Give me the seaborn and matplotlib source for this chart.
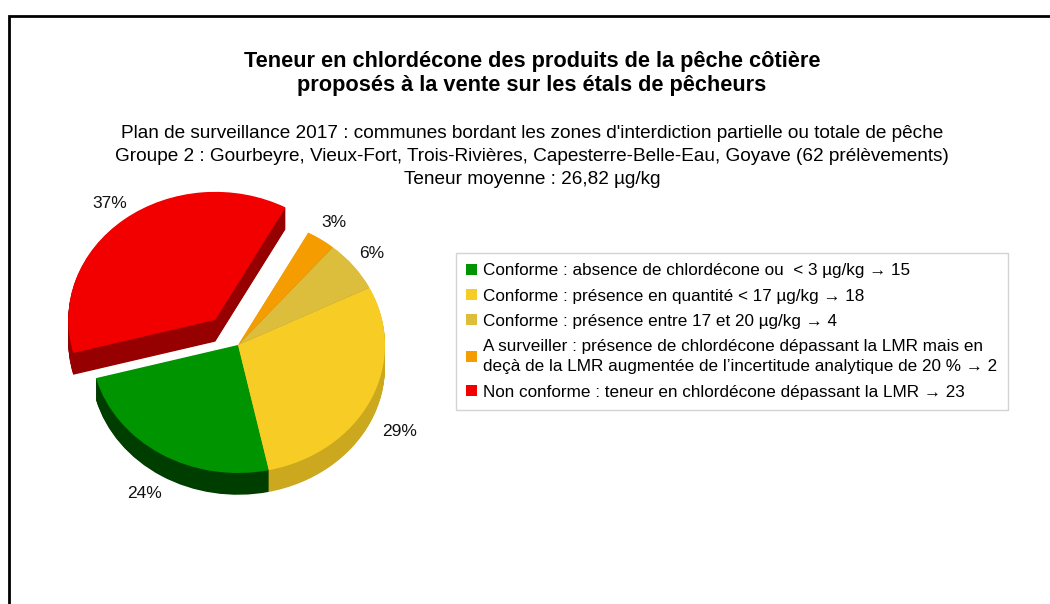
import numpy as np
import matplotlib
matplotlib.use('Agg')
import matplotlib.pyplot as plt
from matplotlib.patches import Rectangle
from matplotlib.colors import to_rgb
import seaborn as sns

# data
labels = [
    'Conforme : absence de chlordécone ou  < 3 µg/kg → 15',
    'Conforme : présence en quantité < 17 µg/kg → 18',
    'Conforme : présence entre 17 et 20 µg/kg → 4',
    'A surveiller : présence de chlordécone dépassant la LMR mais en\n'
    'deçà de la LMR augmentée de l\u2019incertitude analytique de 20 % → 2',
    'Non conforme : teneur en chlordécone dépassant la LMR → 23',
]
counts = [15, 18, 4, 2, 23]
colors = ['#009400', '#f7cd25', '#dcbd3c', '#f59d00', '#f20000']
side_factor = [0.42, 0.82, 0.75, 0.75, 0.62]
explode = [0, 0, 0, 0, 0.25]

title_lines = ['Teneur en chlordécone des produits de la pêche côtière',
               'proposés à la vente sur les étals de pêcheurs']
subtitle_lines = [
    "Plan de surveillance 2017 : communes bordant les zones d'interdiction partielle ou totale de pêche",
    'Groupe 2 : Gourbeyre, Vieux-Fort, Trois-Rivières, Capesterre-Belle-Eau, Goyave (62 prélèvements)',
    'Teneur moyenne : 26,82 µg/kg',
]


def shade(c, f):
    r, g, b = to_rgb(c)
    return (r * f, g * f, b * f)


sns.set_theme(style='white')
plt.rcParams['font.family'] = ['Liberation Sans', 'DejaVu Sans']
plt.rcParams['text.color'] = 'black'

W, H = 1050, 604
fig = plt.figure(figsize=(W / 100, H / 100), dpi=100)

# pie axes, centre about (238, 345) px, radii 147 x 128 px
cx, cy = 238, H - 345
rx, ry = 147, 128
al, ar, ab, at = 20, 450, 60, 430
ax = fig.add_axes([al / W, ab / H, (ar - al) / W, (at - ab) / H])

start = 195
depth = 0.17
n_layers = 30
side_cols = [shade(c, f) for c, f in zip(colors, side_factor)]
for i in range(n_layers, 0, -1):
    d = depth * i / n_layers
    ax.pie(counts, colors=side_cols, explode=explode, startangle=start,
           center=(0, -d), wedgeprops=dict(linewidth=0))

wedges, texts, autotexts = ax.pie(
    counts, colors=colors, explode=explode, startangle=start,
    autopct=lambda p: f'{p:.0f}%', pctdistance=1.16,
    wedgeprops=dict(linewidth=0), textprops=dict(fontsize=12.5, color='#111111'))

for t in autotexts:
    x, y = t.get_position()
    if y < 0:
        t.set_position((x * 1.05, y - depth))

ax.set_aspect('auto')
ax.set_xlim((al - cx) / rx, (ar - cx) / rx)
ax.set_ylim((ab - cy) / ry, (at - cy) / ry)
ax.axis('off')

# titles
fig.text(532 / W, 1 - 61 / H, title_lines[0], ha='center', va='center',
         fontsize=15.7, fontweight='bold')
fig.text(532 / W, 1 - 86 / H, title_lines[1], ha='center', va='center',
         fontsize=15.7, fontweight='bold')
for k, line in enumerate(subtitle_lines):
    fig.text(532 / W, 1 - (134 + 22.5 * k) / H, line, ha='center', va='center',
             fontsize=13.7)

leg = fig.legend(wedges, labels, loc='upper left',
                 bbox_to_anchor=(456 / W, 1 - 253 / H), frameon=True,
                 fancybox=False, edgecolor='#c8c8c8', fontsize=12.3,
                 handlelength=0.6, handleheight=0.6, handletextpad=0.4,
                 labelspacing=0.6, borderpad=0.6, borderaxespad=0)
leg.get_frame().set_linewidth(1)
for t in leg.get_texts():
    t.set_linespacing(1.45)

# outer frame
fig.add_artist(Rectangle((9 / W, -0.1), 1.2, 1.1 - 16 / H,
                         transform=fig.transFigure, fill=False,
                         lw=2, edgecolor='black'))

fig.savefig('out.png', dpi=100)
